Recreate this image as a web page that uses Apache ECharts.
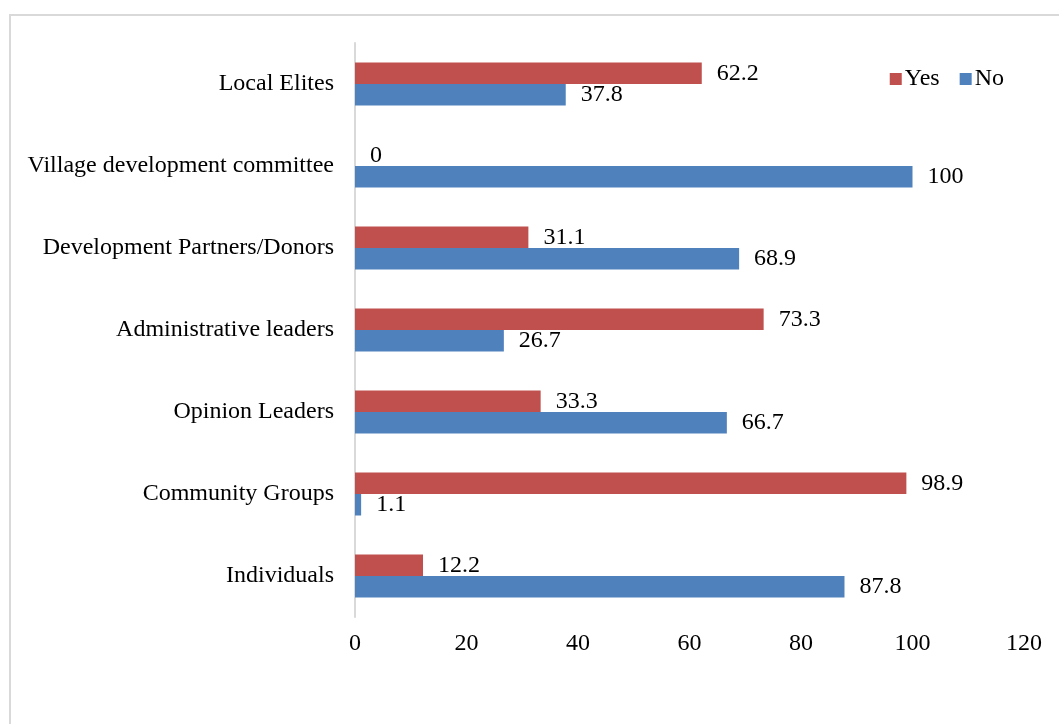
<!DOCTYPE html>
<html>
<head>
<meta charset="utf-8">
<style>html,body{margin:0;padding:0;background:#fff}#chart{width:1059px;height:724px}</style>
<script src="https://cdn.jsdelivr.net/npm/echarts@6/dist/echarts.min.js"></script>
</head>
<body>
<div id="chart"></div>
<script>
// Responses by stakeholder group (percent)
const categories = ['Individuals', 'Community Groups', 'Opinion Leaders', 'Administrative leaders',
  'Development Partners/Donors', 'Village development committee', 'Local Elites'];
const yesValues = [12.2, 98.9, 33.3, 73.3, 31.1, 0, 62.2];
const noValues = [87.8, 1.1, 66.7, 26.7, 68.9, 100, 37.8];
const xTicks = { min: 0, max: 120, interval: 20 };

const FONT = '"Liberation Serif", "Times New Roman", serif';
const FS = 24;

const chart = echarts.init(document.getElementById('chart'));
chart.setOption({
  animation: false,
  textStyle: { fontFamily: FONT },
  graphic: [{
    type: 'rect', z: -10,
    shape: { x: 10, y: 15, width: 1100, height: 800 },
    style: { fill: 'none', stroke: '#d9d9d9', lineWidth: 2 }
  }],
  legend: {
    data: ['Yes', 'No'],
    right: 50, top: 62,
    itemWidth: 12, itemHeight: 12, itemGap: 20,
    icon: 'rect',
    textStyle: { fontFamily: FONT, fontSize: FS, color: '#000', padding: [0, 0, 0, -2] }
  },
  grid: { left: 355, right: 35, top: 43, bottom: 107 },
  xAxis: {
    type: 'value', min: xTicks.min, max: xTicks.max, interval: xTicks.interval,
    axisLine: { show: false }, axisTick: { show: false }, splitLine: { show: false },
    axisLabel: { fontFamily: FONT, fontSize: FS, color: '#000', margin: 15 }
  },
  yAxis: {
    type: 'category', data: categories,
    axisLine: { show: true, lineStyle: { color: '#d9d9d9', width: 2 } },
    axisTick: { show: false },
    axisLabel: { fontFamily: FONT, fontSize: FS, color: '#000', margin: 21, padding: [4, 0, 0, 0] }
  },
  series: [
    {
      name: 'Yes', type: 'bar', data: yesValues, barWidth: 21.5, barGap: '0%',
      itemStyle: { color: '#C0504D' },
      label: { show: true, position: 'right', distance: 15, fontFamily: FONT, fontSize: FS, color: '#000' }
    },
    {
      name: 'No', type: 'bar', data: noValues, barWidth: 21.5, barGap: '0%',
      itemStyle: { color: '#4F81BD' },
      label: { show: true, position: 'right', distance: 15, fontFamily: FONT, fontSize: FS, color: '#000' }
    }
  ]
});
</script>
</body>
</html>
